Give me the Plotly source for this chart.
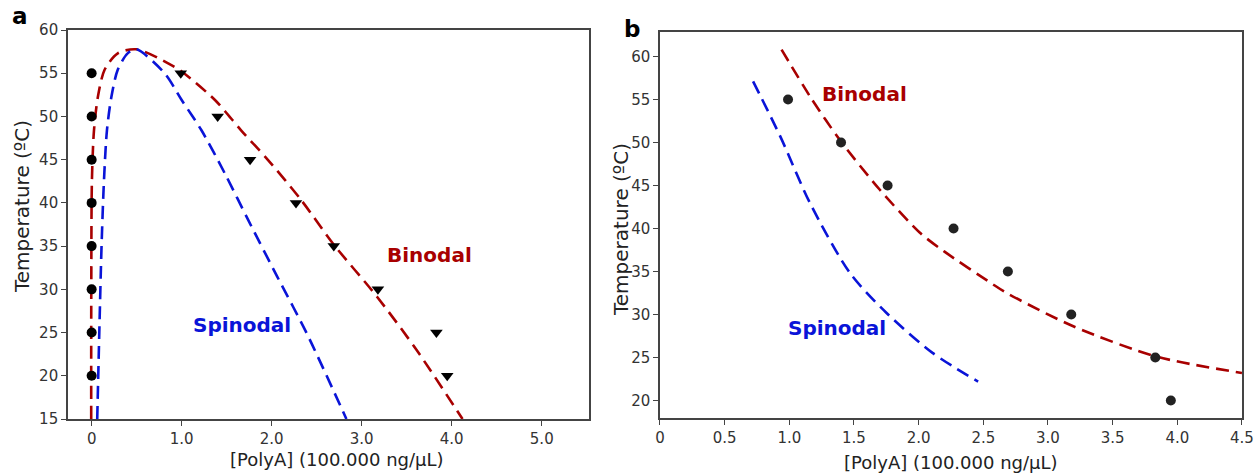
import plotly.graph_objects as go

# ---------------- data ----------------
# Panel a: experimental points
a_dilute_x = [0, 0, 0, 0, 0, 0, 0, 0]
a_dilute_T = [20, 25, 30, 35, 40, 45, 50, 55]
a_dense_x = [0.99, 1.40, 1.76, 2.27, 2.69, 3.18, 3.83, 3.95]
a_dense_T = [55, 50, 45, 40, 35, 30, 25, 20]

# Panel a: binodal / spinodal curves
a_bin_x = [-0.005, -0.004, 0.003, 0.026, 0.07, 0.144, 0.29, 0.496, 0.85, 1.00, 1.37, 1.66, 1.96, 2.33, 2.68, 3.17, 3.61, 4.12]
a_bin_T = [15, 30, 42.6, 48.4, 52.3, 55.4, 57.3, 57.77, 56.15, 55.2, 51.9, 48.4, 44.96, 40.3, 35.3, 29.15, 22.98, 15]
a_spi_x = [0.062, 0.085, 0.11, 0.137, 0.17, 0.22, 0.29, 0.40, 0.496, 0.81, 1.00, 1.22, 1.48, 1.74, 2.06, 2.39, 2.83]
a_spi_T = [15, 25, 35, 42.6, 48.4, 52.3, 55.4, 57.3, 57.77, 55.0, 51.9, 48.4, 43.4, 38.0, 31.5, 24.9, 15]

# Panel b: experimental points
b_x = [0.99, 1.40, 1.76, 2.27, 2.69, 3.18, 3.83, 3.95]
b_T = [55, 50, 45, 40, 35, 30, 25, 20]

# Panel b: curves
b_bin_x = [0.94, 1.16, 1.39, 1.70, 2.01, 2.20, 2.56, 2.68, 3.20, 3.84, 4.50]
b_bin_T = [60.8, 55.35, 50.3, 44.5, 39.5, 37.3, 33.65, 32.5, 28.6, 25.1, 23.2]
b_spi_x = [0.72, 0.93, 1.16, 1.47, 1.75, 2.11, 2.46]
b_spi_T = [57.1, 50.7, 42.95, 34.8, 30.2, 25.5, 22.2]

a_xticks = [0, 1, 2, 3, 4, 5]
a_xticklabels = ["0", "1.0", "2.0", "3.0", "4.0", "5.0"]
a_yticks = [15, 20, 25, 30, 35, 40, 45, 50, 55, 60]
b_xticks = [0, 0.5, 1, 1.5, 2, 2.5, 3, 3.5, 4, 4.5]
b_xticklabels = ["0", "0.5", "1.0", "1.5", "2.0", "2.5", "3.0", "3.5", "4.0", "4.5"]
b_yticks = [20, 25, 30, 35, 40, 45, 50, 55, 60]

# ---------------- styles ----------------
FONT = "DejaVu Sans"
RED = "#a80000"
BLUE = "#0a14d8"
DASH = "13px,7px"

fig = go.Figure()

line_style = dict(width=2.6, dash=DASH, shape="spline", smoothing=0.8)

# panel a
fig.add_trace(go.Scatter(x=a_bin_x, y=a_bin_T, mode="lines", line=dict(color=RED, **line_style), xaxis="x", yaxis="y", showlegend=False))
fig.add_trace(go.Scatter(x=a_spi_x, y=a_spi_T, mode="lines", line=dict(color=BLUE, **line_style), xaxis="x", yaxis="y", showlegend=False))
fig.add_trace(go.Scatter(x=a_dilute_x, y=a_dilute_T, mode="markers", marker=dict(symbol="circle", size=10, color="black"), xaxis="x", yaxis="y", showlegend=False))
fig.add_trace(go.Scatter(x=a_dense_x, y=a_dense_T, mode="markers", marker=dict(symbol="triangle-down", size=11, color="black"), xaxis="x", yaxis="y", showlegend=False))

# panel b
fig.add_trace(go.Scatter(x=b_bin_x, y=b_bin_T, mode="lines", line=dict(color=RED, **line_style), xaxis="x2", yaxis="y2", showlegend=False))
fig.add_trace(go.Scatter(x=b_spi_x, y=b_spi_T, mode="lines", line=dict(color=BLUE, **line_style), xaxis="x2", yaxis="y2", showlegend=False))
fig.add_trace(go.Scatter(x=b_x, y=b_T, mode="markers", marker=dict(symbol="circle", size=10, color="#222222"), xaxis="x2", yaxis="y2", showlegend=False))

axis_common = dict(
    showgrid=False, zeroline=False, showline=True, linecolor="#444444", linewidth=1.5,
    mirror=True, ticks="outside", ticklen=5, tickwidth=1.2, tickcolor="#444444",
    tickfont=dict(family=FONT, size=15, color="#333333"), automargin=False,
)

fig.update_layout(
    width=1254, height=474,
    margin=dict(l=0, r=0, t=0, b=0, autoexpand=False),
    paper_bgcolor="white", plot_bgcolor="white",
    font=dict(family=FONT),
    xaxis=dict(domain=[0.0542, 0.4697], range=[-0.263, 5.525], tickvals=a_xticks, ticktext=a_xticklabels, anchor="y", **axis_common),
    yaxis=dict(domain=[0.116, 0.9367], range=[15, 60], tickvals=a_yticks, anchor="x", **axis_common),
    xaxis2=dict(domain=[0.5263, 0.9904], range=[0, 4.5], tickvals=b_xticks, ticktext=b_xticklabels, anchor="y2", **axis_common),
    yaxis2=dict(domain=[0.1181, 0.9325], range=[17.96, 62.84], tickvals=b_yticks, anchor="x2", **axis_common),
)

xtitle_font = dict(family=FONT, size=18, color="#222222")
ytitle_font = dict(family=FONT, size=20, color="#222222")

annotations = [
    # axis titles
    dict(text="[PolyA] (100.000 ng/μL)", x=336.7 / 1254, y=1 - 459 / 474, xref="paper", yref="paper", showarrow=False, font=xtitle_font, xanchor="center", yanchor="middle"),
    dict(text="Temperature (ºC)", x=22 / 1254, y=1 - 207 / 474, xref="paper", yref="paper", showarrow=False, font=ytitle_font, textangle=-90, xanchor="center", yanchor="middle"),
    dict(text="[PolyA] (100.000 ng/μL)", x=950.8 / 1254, y=1 - 462 / 474, xref="paper", yref="paper", showarrow=False, font=xtitle_font, xanchor="center", yanchor="middle"),
    dict(text="Temperature (ºC)", x=621 / 1254, y=1 - 230 / 474, xref="paper", yref="paper", showarrow=False, font=ytitle_font, textangle=-90, xanchor="center", yanchor="middle"),
    # panel letters
    dict(text="<b>a</b>", x=20 / 1254, y=1 - 16 / 474, xref="paper", yref="paper", showarrow=False, font=dict(family=FONT, size=23, color="black"), xanchor="center", yanchor="middle"),
    dict(text="<b>b</b>", x=632 / 1254, y=1 - 29 / 474, xref="paper", yref="paper", showarrow=False, font=dict(family=FONT, size=23, color="black"), xanchor="center", yanchor="middle"),
    # curve labels
    dict(text="<b>Binodal</b>", x=3.75, y=33.97, xref="x", yref="y", showarrow=False, font=dict(family=FONT, size=20, color=RED)),
    dict(text="<b>Spinodal</b>", x=1.67, y=25.9, xref="x", yref="y", showarrow=False, font=dict(family=FONT, size=20, color=BLUE)),
    dict(text="<b>Binodal</b>", x=1.585, y=55.66, xref="x2", yref="y2", showarrow=False, font=dict(family=FONT, size=20, color=RED)),
    dict(text="<b>Spinodal</b>", x=1.37, y=28.45, xref="x2", yref="y2", showarrow=False, font=dict(family=FONT, size=20, color=BLUE)),
]
fig.update_layout(annotations=annotations)

fig.write_html("out.html")
